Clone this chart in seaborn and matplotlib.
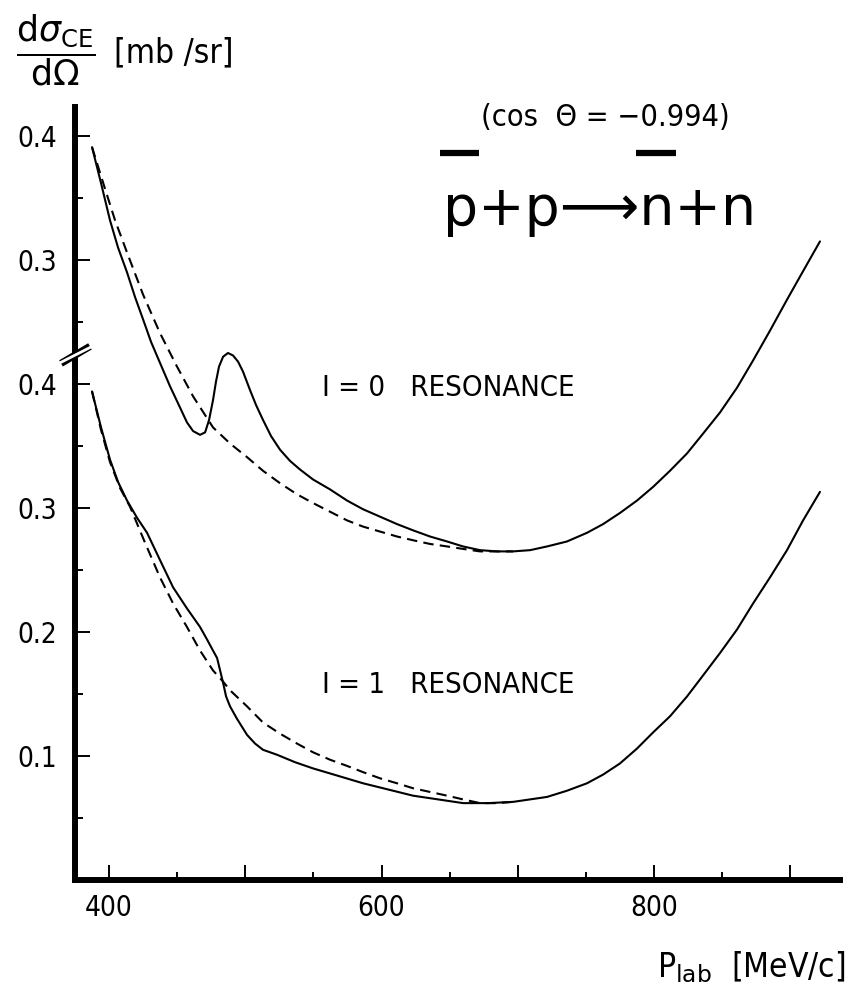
import matplotlib
matplotlib.use("Agg")
import matplotlib.pyplot as plt
import numpy as np
import pandas as pd
import seaborn as sns
from matplotlib.lines import Line2D
from matplotlib.ticker import FixedLocator, FixedFormatter

# ---- cross sections d(sigma_CE)/d(Omega) [mb/sr] vs p_lab [MeV/c] ----
# I = 0 resonance (full line)
p_i0_res = [387.5, 394.1, 400.7, 406.6, 413.2, 419.1, 425.0, 430.8, 437.4, 444.8,
            452.1, 457.2, 461.7, 466.8, 470.5, 473.4, 476.3, 478.5, 480.7, 483.7,
            487.3, 491.0, 494.7, 498.3, 503.5, 507.9, 513.0, 518.9, 525.5, 532.8,
            540.2, 549.7, 562.2, 574.7, 586.4, 598.9, 611.4, 623.1, 635.6, 648.1,
            659.8, 672.3, 684.8, 696.5, 709.0, 721.5, 736.1, 750.8, 762.6, 775.0,
            787.5, 799.3, 811.7, 824.2, 836.0, 848.4, 860.9, 872.7, 885.1, 897.6,
            909.4, 921.8]
s_i0_res = [0.391, 0.362, 0.332, 0.310, 0.290, 0.270, 0.252, 0.234, 0.217, 0.198,
            0.181, 0.169, 0.162, 0.159, 0.161, 0.171, 0.187, 0.202, 0.214, 0.222,
            0.225, 0.223, 0.218, 0.210, 0.195, 0.183, 0.171, 0.158, 0.147, 0.138,
            0.131, 0.123, 0.115, 0.106, 0.099, 0.093, 0.087, 0.082, 0.077, 0.073,
            0.069, 0.066, 0.065, 0.065, 0.066, 0.069, 0.073, 0.080, 0.087, 0.096,
            0.106, 0.117, 0.130, 0.144, 0.160, 0.177, 0.197, 0.219, 0.243, 0.268,
            0.291, 0.315]
# I = 0 smooth background (dashed)
p_i0_bg = [387.5, 396.3, 404.4, 413.2, 425.0, 437.4, 449.9, 461.7, 476.3, 488.8,
           501.3, 513.0, 525.5, 538.0, 549.7, 562.2, 574.7, 586.4, 598.9, 611.4,
           623.1, 635.6, 648.1, 659.8, 672.3, 684.8, 696.5]
s_i0_bg = [0.391, 0.360, 0.332, 0.306, 0.272, 0.241, 0.214, 0.190, 0.165, 0.152,
           0.141, 0.130, 0.120, 0.111, 0.104, 0.097, 0.090, 0.085, 0.081, 0.077,
           0.074, 0.071, 0.069, 0.067, 0.065, 0.065, 0.065]

# I = 1 resonance (full line)
p_i1_res = [387.5, 394.1, 400.7, 406.6, 413.2, 420.6, 427.9, 437.4, 447.0, 457.2,
            466.8, 471.9, 476.3, 479.3, 481.5, 483.7, 485.9, 488.8, 493.9, 501.3,
            507.2, 513.0, 523.3, 536.5, 549.7, 568.1, 586.4, 604.8, 623.1, 641.5,
            659.8, 678.2, 696.5, 709.0, 721.5, 736.1, 750.8, 762.6, 775.0, 787.5,
            799.3, 811.7, 824.2, 836.0, 848.4, 860.9, 872.7, 885.1, 897.6, 909.4,
            921.8]
s_i1_res = [0.394, 0.365, 0.339, 0.321, 0.306, 0.292, 0.280, 0.258, 0.236, 0.219,
            0.204, 0.194, 0.185, 0.179, 0.169, 0.159, 0.148, 0.140, 0.130, 0.117,
            0.110, 0.105, 0.101, 0.095, 0.090, 0.084, 0.078, 0.073, 0.068, 0.065,
            0.062, 0.062, 0.063, 0.065, 0.067, 0.072, 0.078, 0.085, 0.094, 0.106,
            0.119, 0.132, 0.148, 0.165, 0.183, 0.202, 0.223, 0.244, 0.266, 0.290,
            0.313]
# I = 1 smooth background (dashed)
p_i1_bg = [387.5, 394.1, 400.7, 408.1, 415.4, 426.4, 437.4, 447.0, 457.2, 466.8,
           476.3, 483.7, 488.8, 501.3, 513.0, 525.5, 538.0, 549.7, 562.2, 574.7,
           586.4, 598.9, 611.4, 623.1, 635.6, 648.1, 659.8, 672.3, 684.8, 696.5]
s_i1_bg = [0.394, 0.363, 0.337, 0.316, 0.301, 0.272, 0.244, 0.223, 0.204, 0.185,
           0.169, 0.160, 0.153, 0.140, 0.127, 0.118, 0.110, 0.103, 0.097, 0.092,
           0.087, 0.082, 0.078, 0.074, 0.071, 0.068, 0.065, 0.062, 0.062, 0.063]

# axis ticks
x_major = [400, 500, 600, 700, 800, 900]
x_minor = [450, 550, 650, 750, 850]
x_labels = ["400", "", "600", "", "800", ""]
y_lower_major = [0.1, 0.2, 0.3, 0.4]
y_lower_minor = [0.05, 0.15, 0.25, 0.35]
y_upper_major = [0.3, 0.4]
y_upper_minor = [0.25, 0.35]

# the I=0 curves and the upper scale are lifted by this amount above the break
SHIFT = 0.2
Y_BREAK = 0.4235

W, H, DPI = 865, 989, 100
AX_L, AX_R, AX_B, AX_T = 75, 840, 880, 107   # axes frame in pixels

sns.set_style("ticks")
plt.rcParams["font.family"] = ["DejaVu Sans"]
plt.rcParams["mathtext.fontset"] = "dejavusans"
for key in ("text.color", "axes.labelcolor", "xtick.color", "ytick.color",
            "axes.edgecolor"):
    plt.rcParams[key] = "black"
COND = dict(family="DejaVu Sans", fontstretch="condensed")

fig = plt.figure(figsize=(W / DPI, H / DPI), dpi=DPI)
ax = fig.add_axes([AX_L / W, 1 - AX_B / H, (AX_R - AX_L) / W, (AX_B - AX_T) / H])

curves = [
    (p_i0_res, np.array(s_i0_res) + SHIFT, "-"),
    (p_i0_bg, np.array(s_i0_bg) + SHIFT, (0, (5, 3))),
    (p_i1_res, np.array(s_i1_res), "-"),
    (p_i1_bg, np.array(s_i1_bg), (0, (5, 3))),
]
for px, sy, ls in curves:
    df = pd.DataFrame({"p": px, "s": sy})
    sns.lineplot(data=df, x="p", y="s", ax=ax, color="black", lw=1.5,
                 linestyle=ls, sort=False, estimator=None)

ax.set_xlim(375.0, 936.5)
ax.set_ylim(0.0, (AX_B - AX_T) / 1240.0)
ax.set_xlabel("")
ax.set_ylabel("")

for side in ("top", "right"):
    ax.spines[side].set_visible(False)
for side in ("left", "bottom"):
    ax.spines[side].set_linewidth(4.3)
    ax.spines[side].set_color("black")
    ax.spines[side].set_capstyle("projecting")

ax.xaxis.set_major_locator(FixedLocator(x_major))
ax.xaxis.set_major_formatter(FixedFormatter(x_labels))
ax.xaxis.set_minor_locator(FixedLocator(x_minor))

y_major = y_lower_major + [v + SHIFT for v in y_upper_major]
y_minor = y_lower_minor + [v + SHIFT for v in y_upper_minor]
y_labels = [f"{v:.1f}" for v in y_lower_major + y_upper_major]
ax.yaxis.set_major_locator(FixedLocator(y_major))
ax.yaxis.set_major_formatter(FixedFormatter(y_labels))
ax.yaxis.set_minor_locator(FixedLocator(y_minor))

ax.tick_params(axis="both", which="major", direction="in", length=11, width=1.4,
               labelsize=20, color="black", labelcolor="black")
ax.tick_params(axis="both", which="minor", direction="in", length=6, width=1.4,
               color="black")
ax.tick_params(axis="y", which="major", pad=13)
ax.tick_params(axis="x", which="major", pad=10)
for lbl in ax.get_xticklabels() + ax.get_yticklabels():
    lbl.set_fontstretch("condensed")

# axis break mark "//" on the y axis
ax_w = AX_R - AX_L
xb = np.array([-14, 15]) / ax_w
yb = Y_BREAK + np.array([-8.5, 8.5]) / 1240.0
bt = ax.get_yaxis_transform()
ax.add_line(Line2D(xb, yb, transform=bt, color="black", lw=5.2,
                   clip_on=False, zorder=10, solid_capstyle="butt"))
ax.add_line(Line2D(xb * 1.15, yb, transform=bt, color="white", lw=2.0,
                   clip_on=False, zorder=11, solid_capstyle="butt"))

# curve annotations
ax.text(556, 0.397, "I = 0   RESONANCE", fontsize=21, va="center", ha="left", **COND)
ax.text(556, 0.157, "I = 1   RESONANCE", fontsize=21, va="center", ha="left", **COND)

# axis titles
fig.text(56 / W, 1 - 50 / H,
         r"$\dfrac{\mathrm{d}\sigma_{\mathrm{CE}}}{\mathrm{d}\Omega}$",
         fontsize=25, ha="center", va="center")
fig.text(114 / W, 1 - 53 / H, "[mb /sr]", fontsize=24, ha="left", va="center", **COND)
fig.text(845 / W, 1 - 967 / H, r"P$_{\mathrm{lab}}$  [MeV/c]", fontsize=24,
         ha="right", va="center", **COND)

fig.text(605 / W, 1 - 117 / H, "(cos  \u0398 = \u22120.994)", fontsize=22,
         ha="center", va="center", **COND)

# reaction p̄ + p -> n̄ + n with thick bars over the antiparticles
rx0, rbase = 443, 225
rkw = dict(fontsize=40, family="DejaVu Sans")
renderer = fig.canvas.get_renderer()


def text_width(s):
    t = fig.text(0, 0, s, **rkw)
    w = t.get_window_extent(renderer).width
    t.remove()
    return w


full = "p+p\u27f6n+n"
fig.text(rx0 / W, 1 - rbase / H, full, ha="left", va="baseline", **rkw)
w_p = text_width("p")
w_pre = text_width("p+p\u27f6")
w_n = text_width("n")
ybar = 1 - 153 / H
for x_start, wid in ((rx0, w_p), (rx0 + w_pre, w_n)):
    fig.add_artist(Line2D([(x_start - 3) / W, (x_start + wid + 1) / W], [ybar, ybar],
                          transform=fig.transFigure, color="black", lw=4.5,
                          solid_capstyle="butt"))

fig.savefig("out.png", dpi=DPI)
